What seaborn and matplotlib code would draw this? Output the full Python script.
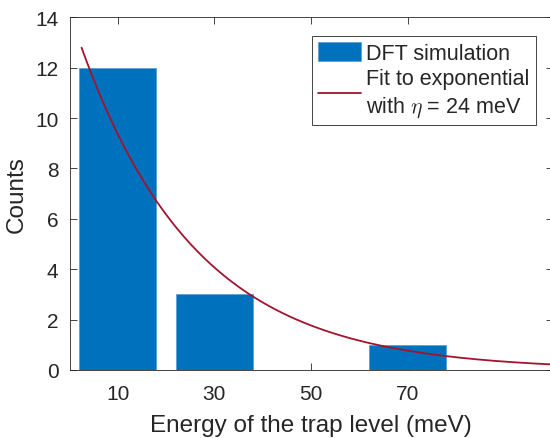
import numpy as np
import pandas as pd
import matplotlib
matplotlib.use("Agg")
import matplotlib.pyplot as plt
import seaborn as sns

# Histogram of trap-level energies from DFT runs
energies = [10, 30, 50, 70]          # bin centres (meV)
counts = [12, 3, 0, 1]               # number of traps per bin
tick_labels = ["10", "30", "50", "70"]

# Exponential fit  N(E) = A * exp(-E / eta)
fit_amplitude = 14.2
fit_eta = 24.0                       # meV
fit_e_start, fit_e_stop = 2.5, 100.0

sns.set_theme(style="white")
plt.rcParams["font.family"] = ["Liberation Sans", "DejaVu Sans"]
plt.rcParams["mathtext.fontset"] = "cm"

text_c = "#262626"
bar_c = "#0072BD"
fit_c = "#A2142F"

fig = plt.figure(figsize=(5.5, 4.39), dpi=100)
ax = fig.add_axes([69.5 / 550, 68 / 439, 483 / 550, 352.7 / 439])

hist_df = pd.DataFrame({"energy": energies, "count": counts})
sns.barplot(data=hist_df, x="energy", y="count", native_scale=True,
            width=0.8, color=bar_c, saturation=1, edgecolor="#5a9fd6",
            linewidth=0.6, label="DFT simulation", ax=ax)

e_fit = np.linspace(fit_e_start, fit_e_stop, 200)
fit_df = pd.DataFrame({"energy": e_fit,
                       "count": fit_amplitude * np.exp(-e_fit / fit_eta)})
sns.lineplot(data=fit_df, x="energy", y="count", color=fit_c, linewidth=1.3,
             label="Fit to exponential\nwith $\\eta$ = 24 meV", ax=ax)

ax.set_xlim(0, 100)
ax.set_ylim(0, 14)
ax.set_xticks(energies)
ax.set_xticklabels(tick_labels)
ax.set_yticks(np.arange(0, 15, 2))

ax.tick_params(axis="both", which="both", direction="in", length=5,
               width=0.6, colors=text_c, labelsize=15, pad=8,
               top=True, right=True, bottom=True, left=True)
ax.tick_params(axis="x", pad=10)
for s in ax.spines.values():
    s.set_visible(True)
    s.set_color(text_c)
    s.set_linewidth(0.6)

ax.set_xlabel("Energy of the trap level (meV)", fontsize=17.5, color=text_c,
              labelpad=8)
ax.set_ylabel("Counts", fontsize=17.5, color=text_c, labelpad=5)

# bars first, then the fitted curve
handles, labels = ax.get_legend_handles_labels()
order = sorted(range(len(labels)), key=lambda i: labels[i] != "DFT simulation")
leg = ax.legend([handles[i] for i in order], [labels[i] for i in order],
                loc="upper right", bbox_to_anchor=(0.965, 0.948),
                borderaxespad=0, fontsize=15.5, frameon=True, fancybox=False,
                framealpha=1, edgecolor=text_c, handlelength=2.0,
                handleheight=0.95, handletextpad=0.2, borderpad=0.3,
                labelspacing=0.2)
leg.get_frame().set_linewidth(0.6)
for t in leg.get_texts():
    t.set_color(text_c)
    t.set_linespacing(1.3)

fig.savefig("out.png", dpi=100)
